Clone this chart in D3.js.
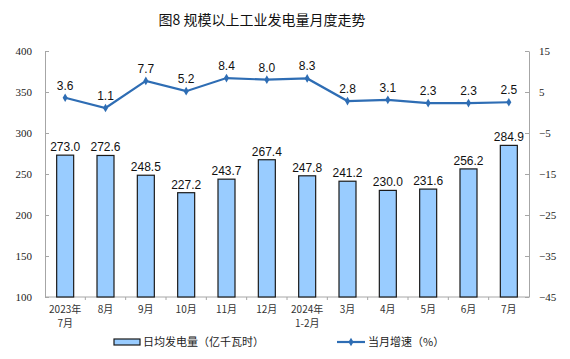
<!DOCTYPE html>
<html lang="zh">
<head>
<meta charset="UTF-8">
<script src="https://d3js.org/d3.v7.min.js"></script>
<title>规模以上工业发电量月度走势</title>
<style>
	body { margin: 0; background: #fff; }
	.axis path, .axis line { stroke: #a6a6a6; }
	.cat text { font-family: "Noto Sans CJK SC", sans-serif; font-size: 10px; fill: #333; }
	.val { font-family: "Liberation Sans", Arial, sans-serif; font-size: 12px; fill: #111; }
</style>
</head>
<body>
<svg width="570" height="359"></svg>
<script>
var months = ["2023年|7月", "8月", "9月", "10月", "11月", "12月", "2024年|1-2月", "3月", "4月", "5月", "6月", "7月"];
var dailyOutput = [273.0, 272.6, 248.5, 227.2, 243.7, 267.4, 247.8, 241.2, 230.0, 231.6, 256.2, 284.9];
var growth = [3.6, 1.1, 7.7, 5.2, 8.4, 8.0, 8.3, 2.8, 3.1, 2.3, 2.3, 2.5];
var leftTicks = [100, 150, 200, 250, 300, 350, 400];
var rightTicks = [-45, -35, -25, -15, -5, 5, 15];

var svg = d3.select("svg");
var plotL = 45, plotR = 529, plotT = 51, plotB = 297;

var x = d3.scaleBand().domain(months).range([plotL, plotR]);
var yL = d3.scaleLinear().domain([100, 400]).range([plotB, plotT]);
var yR = d3.scaleLinear().domain([-45, 15]).range([plotB, plotT]);

// title
svg.append("text")
	.attr("x", 262).attr("y", 25)
	.attr("text-anchor", "middle")
	.style("font-family", "'Noto Sans CJK SC', sans-serif")
	.style("font-size", "14px")
	.style("font-weight", "400")
	.attr("fill", "#111")
	.text("图8 规模以上工业发电量月度走势");

// left axis
svg.append("g").attr("class", "axis")
	.attr("transform", "translate(" + plotL + ",0)")
	.call(d3.axisLeft(yL).tickValues(leftTicks).tickSizeInner(-4).tickSizeOuter(0).tickPadding(13));

// right axis
svg.append("g").attr("class", "axis")
	.attr("transform", "translate(" + plotR + ",0)")
	.call(d3.axisRight(yR).tickValues(rightTicks).tickSizeInner(-4).tickSizeOuter(0).tickPadding(10));

svg.selectAll(".axis text")
	.style("font-family", "'Liberation Serif', 'Times New Roman', serif")
	.style("font-size", "11px")
	.attr("fill", "#222");

// bottom axis with ticks between categories
var bx = svg.append("g").attr("class", "axis");
bx.append("line").attr("x1", plotL).attr("x2", plotR).attr("y1", plotB).attr("y2", plotB);
bx.selectAll(".sep").data(months.slice(1)).enter().append("line")
	.attr("x1", function(d) { return x(d); }).attr("x2", function(d) { return x(d); })
	.attr("y1", plotB).attr("y2", plotB + 3);

var cat = svg.append("g").attr("class", "cat");
cat.selectAll("text").data(months).enter().append("text")
	.attr("text-anchor", "middle")
	.attr("x", function(d) { return x(d) + x.bandwidth() / 2; })
	.each(function(d) {
		var parts = d.split("|");
		var t = d3.select(this);
		parts.forEach(function(p, i) {
			t.append("tspan").attr("x", t.attr("x")).attr("y", plotB + 16 + i * 14).text(p);
		});
	});

// bars
var bw = 17;
svg.selectAll(".bar").data(dailyOutput).enter().append("rect")
	.attr("x", function(d, i) { return x(months[i]) + x.bandwidth() / 2 - bw / 2; })
	.attr("y", function(d) { return yL(d); })
	.attr("width", bw)
	.attr("height", function(d) { return plotB - yL(d); })
	.attr("fill", "#99ccff")
	.attr("stroke", "#1a1a1a")
	.attr("stroke-width", 1.2);

svg.selectAll(".bl").data(dailyOutput).enter().append("text")
	.attr("class", "val")
	.attr("text-anchor", "middle")
	.attr("x", function(d, i) { return x(months[i]) + x.bandwidth() / 2; })
	.attr("y", function(d) { return yL(d) - 4; })
	.text(function(d) { return d.toFixed(1); });

// line
var line = d3.line()
	.x(function(d, i) { return x(months[i]) + x.bandwidth() / 2; })
	.y(function(d) { return yR(d); });
svg.append("path").datum(growth)
	.attr("d", line)
	.attr("fill", "none")
	.attr("stroke", "#2e6db4")
	.attr("stroke-width", 2.2);

svg.selectAll(".pt").data(growth).enter().append("path")
	.attr("d", d3.symbol().type(d3.symbolDiamond).size(22))
	.attr("transform", function(d, i) { return "translate(" + (x(months[i]) + x.bandwidth() / 2) + "," + yR(d) + ")"; })
	.attr("fill", "#2e6db4");

svg.selectAll(".ll").data(growth).enter().append("text")
	.attr("class", "val")
	.attr("text-anchor", "middle")
	.attr("x", function(d, i) { return x(months[i]) + x.bandwidth() / 2; })
	.attr("y", function(d) { return yR(d) - 8; })
	.text(function(d) { return d.toFixed(1); });

// legend
var lg = svg.append("g").style("font-family", "'Noto Sans CJK SC', sans-serif").style("font-size", "11px");
lg.append("rect").attr("x", 114).attr("y", 339).attr("width", 26).attr("height", 6)
	.attr("fill", "#99ccff").attr("stroke", "#1a1a1a").attr("stroke-width", 1.2);
lg.append("text").attr("x", 143).attr("y", 346).attr("fill", "#222").text("日均发电量（亿千瓦时）");
lg.append("line").attr("x1", 337).attr("x2", 365).attr("y1", 342).attr("y2", 342)
	.attr("stroke", "#2e6db4").attr("stroke-width", 2.2);
lg.append("path").attr("d", d3.symbol().type(d3.symbolDiamond).size(22))
	.attr("transform", "translate(351,342)").attr("fill", "#2e6db4");
lg.append("text").attr("x", 368).attr("y", 346).attr("fill", "#222").text("当月增速（%）");
</script>
</body>
</html>
